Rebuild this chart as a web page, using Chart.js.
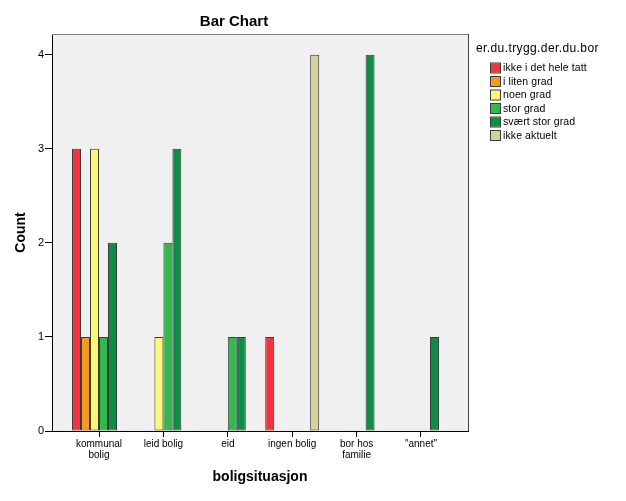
<!DOCTYPE html>
<html>
<head>
<meta charset="utf-8">
<script src="https://cdn.jsdelivr.net/npm/chart.js@4/dist/chart.umd.min.js"></script>
<style>
html,body{margin:0;padding:0;background:#fff;}
#wrap{width:626px;height:501px;position:relative;}
</style>
</head>
<body>
<div id="wrap"><canvas id="c" width="626" height="501"></canvas></div>
<script>
const categories = [["kommunal","bolig"], "leid bolig", "eid", "ingen bolig", ["bor hos","familie"], "\"annet\""];
const seriesNames = ["ikke i det hele tatt", "i liten grad", "noen grad", "stor grad", "svært stor grad", "ikke aktuelt"];
const ikkeIDetHeleTatt = [3, 0, 0, 1, 0, 0];
const iLitenGrad       = [1, 0, 0, 0, 0, 0];
const noenGrad         = [3, 1, 0, 0, 0, 0];
const storGrad         = [1, 2, 1, 0, 0, 0];
const svaertStorGrad   = [2, 3, 1, 0, 4, 1];
const ikkeAktuelt      = [0, 0, 0, 4, 0, 0];
const yTicks = [0, 1, 2, 3, 4];

const seriesValues = [ikkeIDetHeleTatt, iLitenGrad, noenGrad, storGrad, svaertStorGrad, ikkeAktuelt];
const colors = ["#f2343e", "#f7981f", "#fbf872", "#30b94c", "#0f8d47", "#d4d19b"];

const datasets = seriesValues.map((vals, s) => ({
  label: seriesNames[s],
  data: vals.map((v, i) => ({x: i, y: v === 0 ? null : v})),
  backgroundColor: colors[s],
  borderColor: "#3a3a3a",
  borderWidth: 1,
  borderSkipped: false,
  categoryPercentage: 0.838,
  barPercentage: 1.0
}));

const bgPlugin = {
  id: 'bg',
  beforeDraw(chart) {
    const {ctx, chartArea: a} = chart;
    ctx.save();
    ctx.fillStyle = '#f0f0f0';
    ctx.fillRect(a.left, a.top, a.right - a.left, a.bottom - a.top);
    ctx.restore();
  },
  afterDraw(chart) {
    const {ctx, chartArea: a} = chart;
    ctx.save();
    ctx.lineWidth = 1;
    ctx.strokeStyle = '#808080';
    ctx.beginPath();
    ctx.moveTo(a.left, a.top + 0.5);
    ctx.lineTo(a.right, a.top + 0.5);
    ctx.stroke();
    ctx.strokeStyle = '#404040';
    ctx.beginPath();
    ctx.moveTo(a.right + 0.5, a.top);
    ctx.lineTo(a.right + 0.5, a.bottom);
    ctx.stroke();
    // legend
    const lx = 476, ly = 49;
    ctx.fillStyle = '#000';
    ctx.textBaseline = 'middle';
    ctx.textAlign = 'left';
    ctx.font = '12px "Liberation Sans", Arial, sans-serif';
    try { ctx.letterSpacing = '0.4px'; } catch (e) {}
    ctx.fillText('er.du.trygg.der.du.bor', lx, ly);
    try { ctx.letterSpacing = '0.1px'; } catch (e) {}
    ctx.font = '10.5px "Liberation Sans", Arial, sans-serif';
    chart.data.datasets.forEach((ds, i) => {
      const y = 63.5 + i * 13.5;
      ctx.fillStyle = ds.backgroundColor;
      ctx.fillRect(491, y, 9, 9);
      ctx.strokeStyle = '#3a3a3a';
      ctx.strokeRect(490.5, y - 0.5, 10, 10);
      ctx.fillStyle = '#000';
      ctx.fillText(ds.label, 503, y + 5);
    });
    ctx.restore();
  }
};

new Chart(document.getElementById('c'), {
  type: 'bar',
  data: { datasets },
  plugins: [bgPlugin],
  options: {
    responsive: false,
    animation: false,
    layout: { padding: { left: 0, right: 158, top: 0, bottom: 0 } },
    plugins: {
      legend: { display: false },
      tooltip: { enabled: false },
      title: {
        display: true,
        text: 'Bar Chart',
        color: '#000',
        font: { family: '"Liberation Sans", Arial, sans-serif', size: 15, weight: 'bold', lineHeight: 1.2 },
        padding: { top: 13, bottom: 3 }
      }
    },
    scales: {
      x: {
        type: 'linear',
        min: -0.73,
        max: 5.73,
        offset: false,
        afterBuildTicks(scale) { scale.ticks = categories.map((_, i) => ({ value: i })); },
        afterFit(scale) { scale.height = 70; },
        grid: { offset: false, drawOnChartArea: false, drawTicks: true, tickLength: 6, color: '#000', tickColor: '#000' },
        border: { display: true, color: '#000', width: 1 },
        ticks: {
          autoSkip: false,
          maxRotation: 0,
          padding: 2,
          color: '#000',
          font: { family: '"Liberation Sans", Arial, sans-serif', size: 10, lineHeight: 1.1 },
          callback: (v) => categories[v]
        },
        title: {
          display: true,
          text: 'boligsituasjon',
          color: '#000',
          font: { family: '"Liberation Sans", Arial, sans-serif', size: 14, weight: 'bold', lineHeight: 1.2 },
          padding: { top: 0, bottom: 15 }
        }
      },
      y: {
        min: 0,
        max: 4.22,
        afterBuildTicks(scale) { scale.ticks = yTicks.map(v => ({ value: v })); },
        afterFit(scale) { scale.width = 52; },
        grid: { drawOnChartArea: false, drawTicks: true, tickLength: 7, color: '#000', tickColor: '#000' },
        border: { display: true, color: '#000', width: 1 },
        ticks: {
          padding: 1,
          color: '#000',
          font: { family: '"Liberation Sans", Arial, sans-serif', size: 11 }
        },
        title: {
          display: true,
          text: 'Count',
          color: '#000',
          font: { family: '"Liberation Sans", Arial, sans-serif', size: 14, weight: 'bold', lineHeight: 1.2 },
          padding: { top: 13, bottom: 0 }
        }
      }
    }
  }
});
</script>
</body>
</html>
